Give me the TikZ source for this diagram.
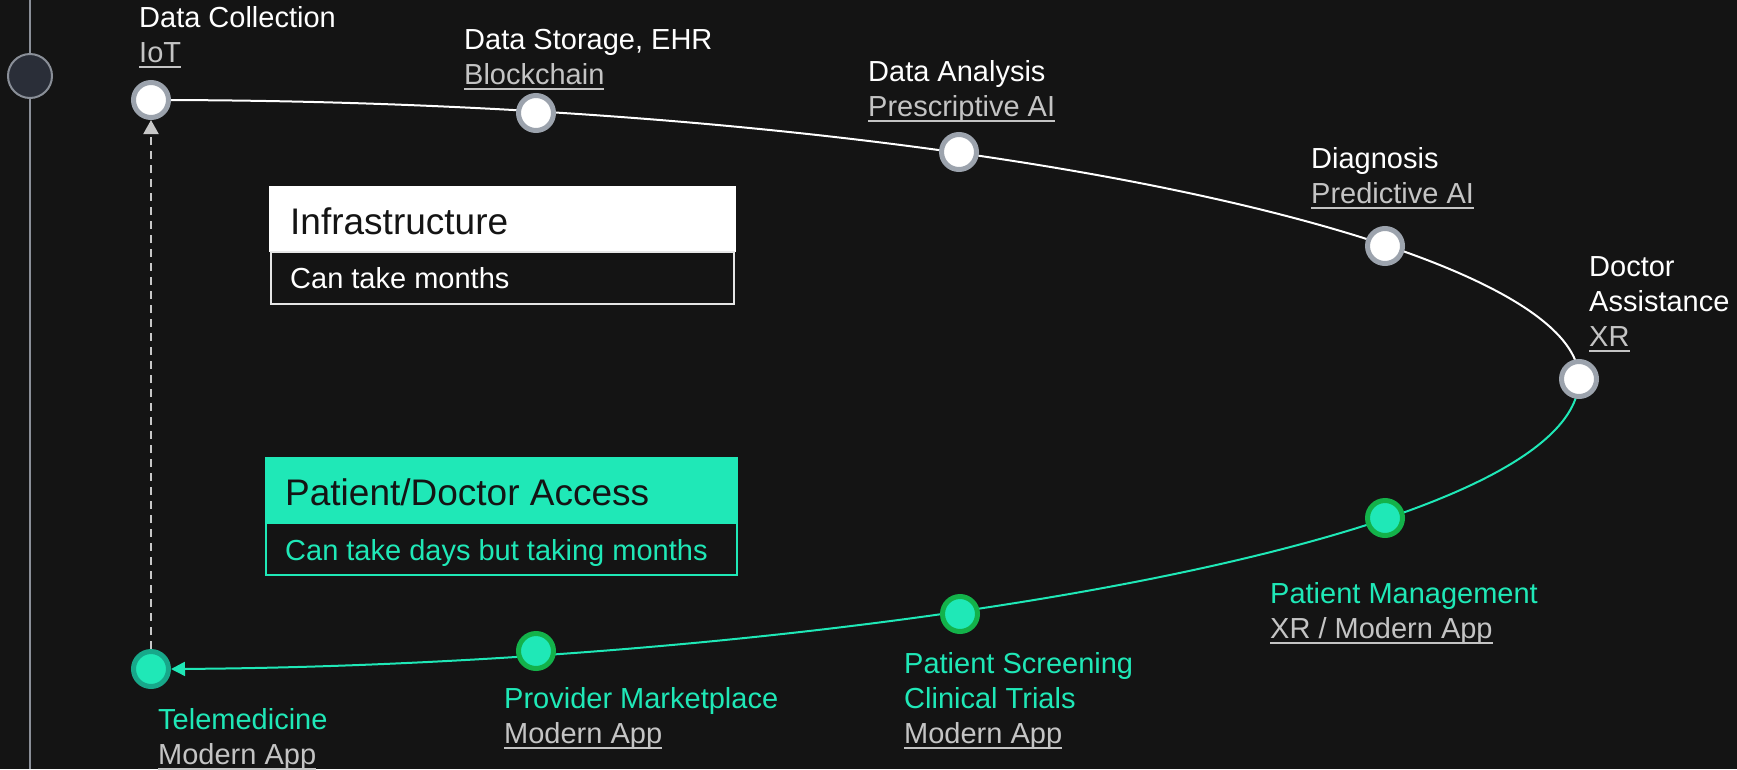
\documentclass[tikz,border=0pt]{standalone}
\usepackage{fontspec}
\setmainfont{Liberation Sans}
\usetikzlibrary{arrows.meta}
\definecolor{bgc}{HTML}{141414}
\definecolor{grn}{HTML}{1FE8B7}
\definecolor{ringg}{HTML}{9CA3AD}
\definecolor{ringgr}{HTML}{13B24A}
\definecolor{ringt}{HTML}{17A88A}
\definecolor{linkc}{HTML}{C4C4C4}
\definecolor{dashc}{HTML}{C8C8C8}
\definecolor{tlc}{HTML}{8A8F98}
\definecolor{tlfill}{HTML}{2A2E38}
\definecolor{boxln}{HTML}{E6E6E6}
\pgfdeclarelayer{back}
\pgfsetlayers{back,main}
\newcommand\lnkx[1]{\setbox0=\hbox{\color{linkc}#1}\rlap{\color{linkc}\rule[-5.5pt]{\wd0}{2pt}}\box0}
\begin{document}
\begin{tikzpicture}[x=1pt,y=-1pt,
  lbl/.style={anchor=base west, inner sep=0pt, font=\fontsize{29}{35}\selectfont, text=white},
  glbl/.style={lbl, text=grn},
  ttl/.style={anchor=base west, inner sep=0pt, font=\fontsize{37}{44}\selectfont},
  dotw/.style={circle, fill=white, draw=ringg, line width=5pt, minimum size=35pt, inner sep=0pt},
  dotg/.style={dotw, fill=grn, draw=ringgr},
  dott/.style={dotw, fill=grn, draw=ringt},
  topcurve/.style={white, line width=2pt},
  botcurve/.style={grn, line width=2pt, -{Triangle[length=14pt,width=14pt]}},
  retarrow/.style={dashc, line width=2pt, dash pattern=on 8pt off 6pt, -{Triangle[length=14pt,width=15pt]}}
]
\useasboundingbox (0,0) rectangle (1737,769);

% left timeline
\coordinate (tltop) at (30,0);
\coordinate (tlbot) at (30,769);
\draw[tlc, line width=2pt] (tltop) -- (tlbot);
\node[circle, draw=tlc, fill=tlfill, line width=2pt, minimum size=44pt, inner sep=0pt] (tl) at (30,76) {};

% boxes
\fill[white] (269,186) rectangle (736,252);
\draw[boxln, line width=2pt] (271,252) rectangle (734,304);
\node[ttl, text=bgc] (infT) at (290,234) {Infrastructure};
\node[lbl] (infS) at (290,288) {Can take months};

\fill[grn] (265,457) rectangle (738,523);
\draw[grn, line width=2pt] (266,523) rectangle (737,575);
\node[ttl, text=bgc] (pdaT) at (285,505) {Patient/Doctor Access};
\node[glbl] (pdaS) at (285,560) {Can take days but taking months};

% dots
\node[dotw] (dc) at (151,100) {};
\node[dotw] (ds) at (536,113) {};
\node[dotw] (dan) at (959,152) {};
\node[dotw] (dg) at (1385,246) {};
\node[dotw] (da) at (1579,379) {};
\node[dotg] (pm) at (1385,518) {};
\node[dotg] (ps) at (960,614) {};
\node[dotg] (pmk) at (536,651) {};
\node[dott] (tm) at (151,669) {};

% labels
\node[lbl] (lDC) at (139,27) {\vtop{\hbox{Data Collection}\hbox{\lnkx{IoT}}}};
\node[lbl] (lDS) at (464,49) {\vtop{\hbox{Data Storage, EHR}\hbox{\lnkx{Blockchain}}}};
\node[lbl] (lDA) at (868,81) {\vtop{\hbox{Data Analysis}\hbox{\lnkx{Prescriptive AI}}}};
\node[lbl] (lDG) at (1311,168) {\vtop{\hbox{Diagnosis}\hbox{\lnkx{Predictive AI}}}};
\node[lbl] (lDR) at (1589,276) {\vtop{\hbox{Doctor}\hbox{Assistance}\hbox{\lnkx{XR}}}};
\node[glbl] (lPM) at (1270,603) {\vtop{\hbox{Patient Management}\hbox{\lnkx{XR / Modern App}}}};
\node[glbl] (lPS) at (904,673) {\vtop{\hbox{Patient Screening}\hbox{Clinical Trials}\hbox{\lnkx{Modern App}}}};
\node[glbl] (lPK) at (504,708) {\vtop{\hbox{Provider Marketplace}\hbox{\lnkx{Modern App}}}};
\node[glbl] (lTM) at (158,729) {\vtop{\hbox{Telemedicine}\hbox{\lnkx{Modern App}}}};

\begin{pgfonlayer}{back}
\fill[bgc] (0,0) rectangle (1737,769);
\draw[topcurve] (dc.center) .. controls +(786,0) and +(0,-140) .. (da.center);
\draw[botcurve] (da.center) .. controls +(0,170) and +(629,-4) .. (tm.east);
\draw[retarrow] (tm.north) -- (dc.south);
\end{pgfonlayer}
\end{tikzpicture}
\end{document}
